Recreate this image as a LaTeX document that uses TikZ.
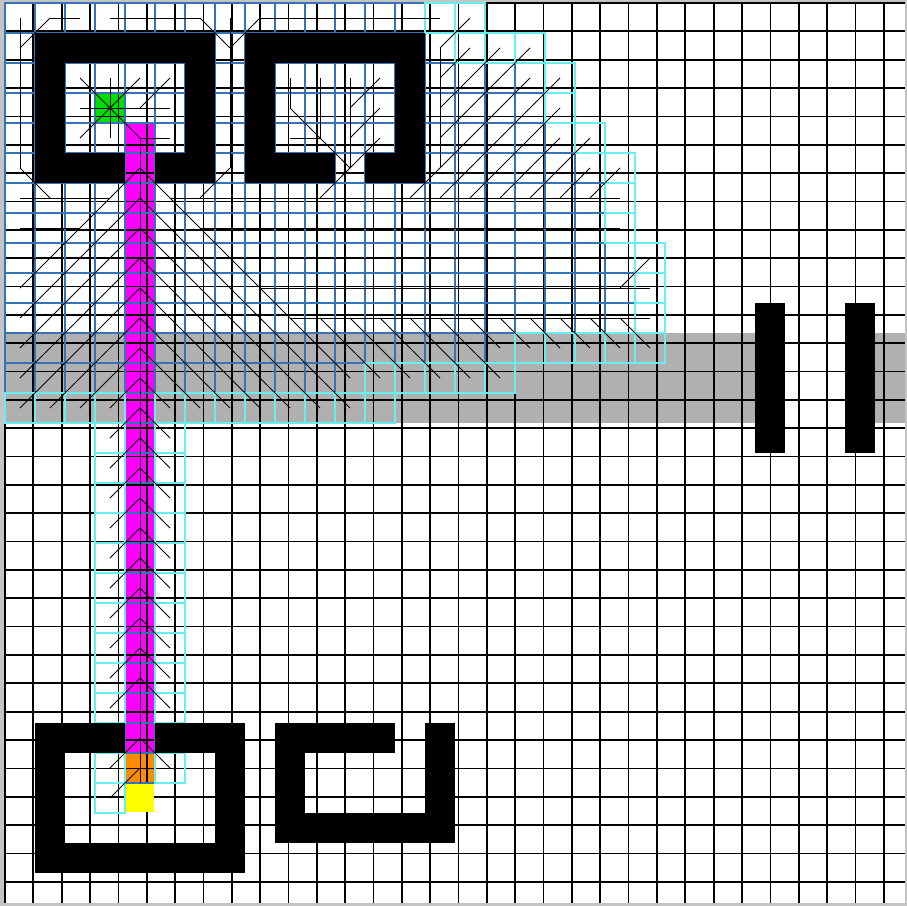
\documentclass[tikz,border=0pt]{standalone}
\definecolor{cvis}{RGB}{52,116,180}
\definecolor{copen}{RGB}{100,240,240}
\definecolor{cgray}{RGB}{176,176,176}
\definecolor{cmag}{RGB}{255,0,255}
\definecolor{cgreen}{RGB}{0,224,0}
\definecolor{corange}{RGB}{255,140,0}
\definecolor{cyel}{RGB}{255,255,0}
\definecolor{cbg}{RGB}{196,196,196}
\tikzset{
  gridline/.style={line width=1.7bp},
  vis/.style={gridline,draw=cvis},
  opn/.style={gridline,draw=copen},
  parent/.style={line width=0.8bp,draw=black},
  wall/.style={fill=black}
}
\newcommand\Vcells[2]{\foreach \c in {#2} {\draw[vis] (\c,#1) rectangle ++(1,1);}}
\newcommand\Ocells[2]{\foreach \c in {#2} {\draw[opn] (\c,#1) rectangle ++(1,1);}}
\newcommand\PL[4]{\draw[parent] (#1+0.5,#2+0.5) -- (#3+0.5,#4+0.5);}
\begin{document}
\begin{tikzpicture}[x=30bp,y=-30bp]
\useasboundingbox (-0.16667,-0.1) rectangle (30.0667,30.1);
\fill[cbg] (-0.16667,-0.1) rectangle (30.0667,30.1);
\fill[white] (0,0) rectangle (30,30);
% terrain
\fill[cgray] (0,11) rectangle (25,14);
\fill[cgray] (29,11) rectangle (30,14);
% special fills
\fill[cmag] (4,4) rectangle (5,25);
\fill[cgreen] (3,3) rectangle (4,4);
\fill[corange] (4,25) rectangle (5,26);
% plain grid
\draw[gridline] (0,0) grid (30,30);
% closed cells
\Vcells{0}{0,...,13}
\Vcells{1}{0,7,14}
\Vcells{2}{0,2,3,4,5,7,9,10,11,12,14,15,16,17}
\Vcells{3}{0,2,3,4,5,7,9,10,11,12,14,15,16,17}
\Vcells{4}{0,2,3,4,5,7,9,10,11,12,14,15,16,17,18}
\Vcells{5}{0,4,7,11,14,15,16,17,18,19}
\Vcells{6}{0,...,19}
\Vcells{7}{0,...,19}
\Vcells{8}{0,...,20}
\Vcells{9}{0,...,20}
\Vcells{10}{0,...,20}
\Vcells{11}{0,...,16}
\Vcells{12}{0,...,11}
\foreach \r in {13,...,25} {\draw[vis] (4,\r) rectangle ++(1,1);}
% open cells
\Ocells{0}{14,15}
\Ocells{1}{15,16,17}
\Ocells{2}{18}
\Ocells{3}{18}
\Ocells{4}{19}
\Ocells{5}{20}
\Ocells{6}{20}
\Ocells{7}{20}
\Ocells{8}{21}
\Ocells{9}{21}
\Ocells{10}{21}
\Ocells{11}{17,...,21}
\Ocells{12}{12,...,16}
\Ocells{13}{0,1,2,3,5,6,...,12}
\foreach \r in {14,...,23} {\Ocells{\r}{3,5}}
\Ocells{25}{3,5}
\Ocells{26}{3}
% walls
\fill[wall] (1,1) rectangle (7,2);
\fill[wall] (1,2) rectangle (2,5);
\fill[wall] (6,2) rectangle (7,5);
\fill[wall] (1,5) rectangle (4,6);
\fill[wall] (5,5) rectangle (7,6);
\fill[wall] (8,1) rectangle (14,2);
\fill[wall] (8,2) rectangle (9,5);
\fill[wall] (13,2) rectangle (14,5);
\fill[wall] (8,5) rectangle (11,6);
\fill[wall] (12,5) rectangle (14,6);
\fill[wall] (25,10) rectangle (26,15);
\fill[wall] (28,10) rectangle (29,15);
\fill[wall] (1,24) rectangle (4,25);
\fill[wall] (5,24) rectangle (8,25);
\fill[wall] (1,25) rectangle (2,28);
\fill[wall] (7,25) rectangle (8,28);
\fill[wall] (1,28) rectangle (8,29);
\fill[wall] (9,24) rectangle (13,25);
\fill[wall] (14,24) rectangle (15,25);
\fill[wall] (9,25) rectangle (10,27);
\fill[wall] (14,25) rectangle (15,27);
\fill[wall] (9,27) rectangle (15,28);
% goal
\fill[cyel] (4.03,26.03) rectangle (4.97,26.97);
% parent pointers: top and left border
\PL{0}{0}{0}{5}
\PL{0}{1}{1}{0}
\PL{1}{0}{2}{0}
\PL{3}{0}{6}{0}
\PL{6}{0}{7}{1}
\PL{7}{0}{7}{5}
\PL{7}{1}{8}{0}
\PL{8}{0}{14}{0}
\PL{0}{5}{1}{6}
\PL{0}{6}{3}{6}
\PL{0}{7}{2}{7}
\PL{0}{8}{1}{8}
\PL{7}{5}{6}{6}
% start room
\PL{3}{3}{2}{2}
\PL{3}{3}{3}{2}
\PL{3}{3}{4}{2}
\PL{3}{3}{2}{3}
\PL{3}{3}{5}{3}
\PL{3}{3}{2}{4}
\PL{3}{3}{3}{4}
\PL{3}{3}{4}{4}
\PL{4}{3}{5}{2}
\PL{4}{4}{5}{4}
% second room
\PL{9}{2}{9}{3}
\PL{9}{3}{11}{5}
\PL{10}{2}{10}{4}
\PL{9}{4}{10}{4}
\PL{11}{2}{11}{5}
\PL{11}{3}{12}{2}
\PL{11}{4}{12}{3}
\PL{11}{5}{12}{4}
\PL{10}{6}{11}{5}
% right of second room
\PL{14}{1}{14}{5}
\PL{14}{1}{15}{0}
\PL{14}{2}{15}{1}
\PL{14}{3}{16}{1}
\PL{14}{4}{17}{1}
\PL{13}{6}{17}{2}
\PL{14}{6}{18}{2}
\PL{15}{6}{18}{3}
\PL{16}{6}{18}{4}
\PL{17}{6}{19}{4}
\PL{18}{6}{19}{5}
\PL{19}{6}{20}{5}
% path and fans
\draw[parent] (4.5,4.5) -- (4.5,26);
\foreach \k in {5,...,9} {\PL{4}{\k}{0}{\k+4}}
\PL{4}{10}{1}{13}
\PL{4}{11}{2}{13}
\PL{4}{12}{3}{13}
\PL{4}{5}{11}{12}
\PL{4}{6}{11}{13}
\PL{4}{7}{10}{13}
\PL{4}{8}{9}{13}
\PL{4}{9}{8}{13}
\PL{4}{10}{7}{13}
\PL{4}{11}{6}{13}
\PL{4}{12}{5}{13}
\foreach \k in {13,...,22} {\PL{4}{\k}{3}{\k+1}\PL{4}{\k}{5}{\k+1}}
\PL{4}{24}{3}{25}
\PL{4}{24}{5}{25}
\PL{4}{25}{3}{26}
% horizontal rows
\PL{5}{6}{20}{6}
\PL{6}{7}{20}{7}
\PL{7}{8}{20}{8}
\PL{8}{9}{21}{9}
\PL{9}{10}{21}{10}
\PL{20}{9}{21}{8}
% lower diagonals
\PL{10}{10}{12}{12}
\PL{11}{10}{13}{12}
\PL{12}{10}{14}{12}
\PL{13}{10}{15}{12}
\PL{14}{10}{16}{12}
\foreach \k in {15,...,20} {\PL{\k}{10}{\k+1}{11}}
% start marker
\fill[black] (3.5,3.5) circle (1.8bp);
\end{tikzpicture}
\end{document}
